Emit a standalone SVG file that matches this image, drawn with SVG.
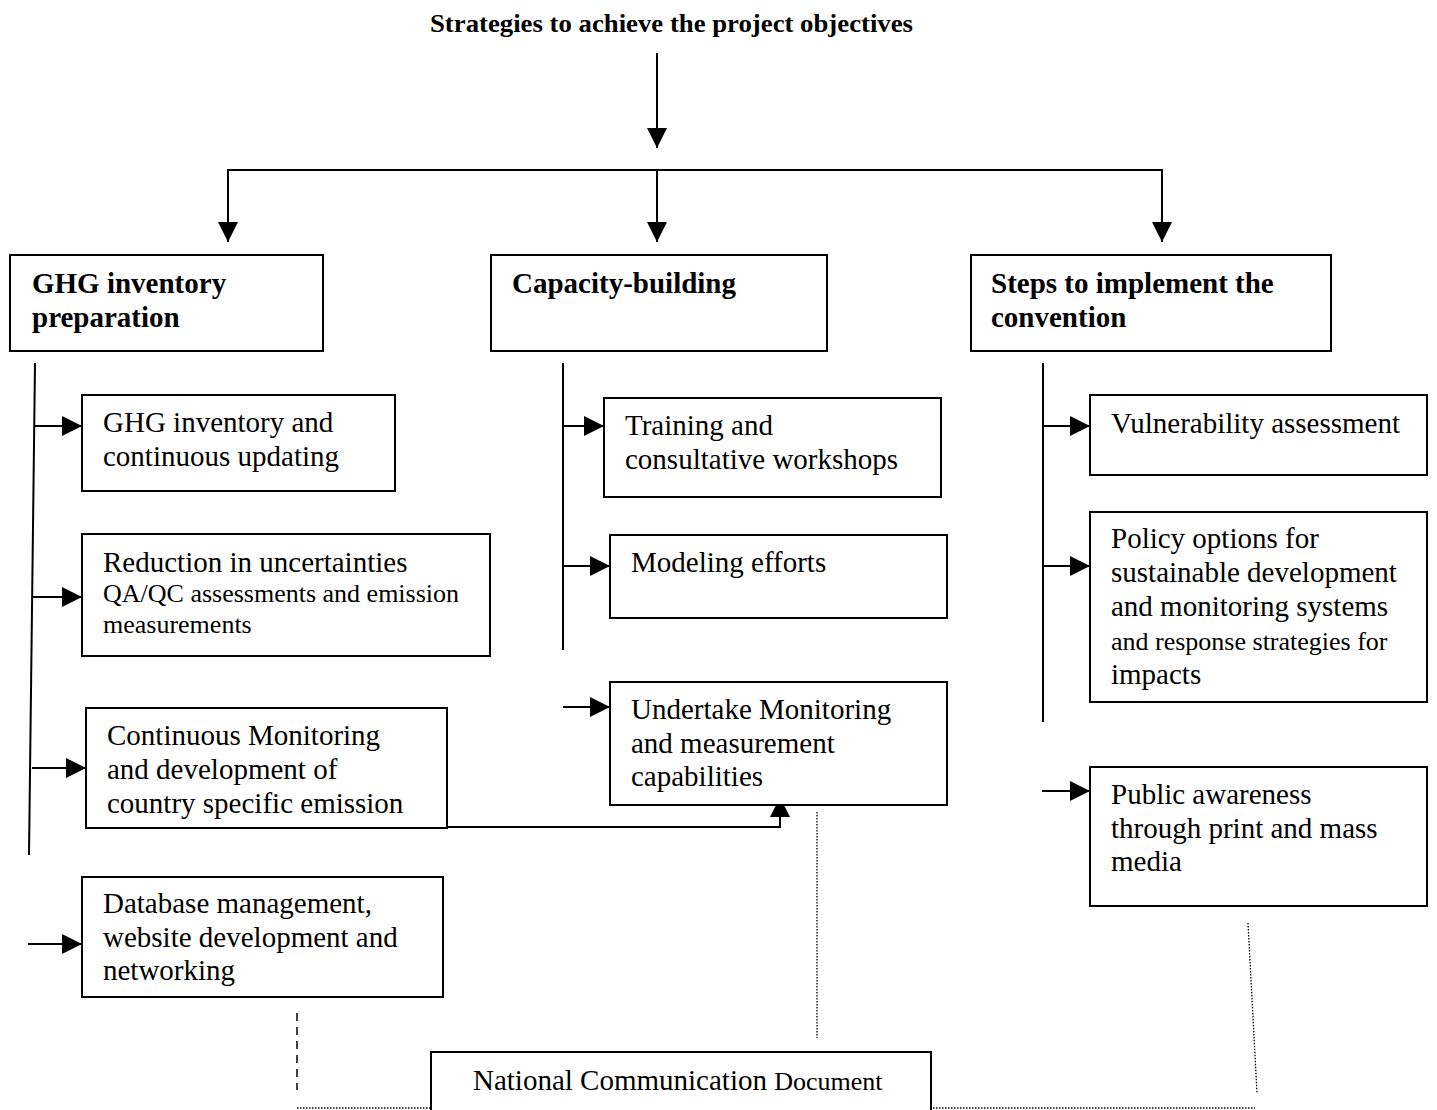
<svg xmlns="http://www.w3.org/2000/svg" width="1437" height="1110" viewBox="0 0 1437 1110">
<style>
  .box { fill: #fff; stroke: #000; stroke-width: 2; }
  .t { font-family: "Liberation Serif", "Times New Roman", serif; font-size: 29px; fill: #000; }
  .s { font-size: 26px; }
  .h { font-family: "Liberation Serif", "Times New Roman", serif; font-size: 29px; font-weight: bold; fill: #000; }
  .ln { stroke: #000; stroke-width: 2; fill: none; }
  .arr { stroke: #000; stroke-width: 2; fill: none; marker-end: url(#ah); }
  .dot { stroke: #000; stroke-width: 1.3; fill: none; stroke-dasharray: 1.5 1.5; }
  .dash { stroke: #000; stroke-width: 1.5; fill: none; stroke-dasharray: 8 6; }
</style>
<defs>
  <marker id="ah" markerUnits="userSpaceOnUse" markerWidth="20" markerHeight="20" refX="20" refY="10" orient="auto" viewBox="0 0 20 20">
    <path d="M0,0 L20,10 L0,20 z" fill="#000"/>
  </marker>
</defs>
<rect width="1437" height="1110" fill="#fff"/>

<g id="title">
  <text class="h" x="430" y="32" font-size="26" style="font-size:26px" textLength="483" lengthAdjust="spacingAndGlyphs">Strategies to achieve the project objectives</text>
</g>

<g id="connectors">
  <line class="arr" x1="657" y1="53" x2="657" y2="148"/>
  <polyline class="ln" points="228,240 228,170 1162,170 1162,240"/>
  <line class="arr" x1="228" y1="170" x2="228" y2="242"/>
  <line class="arr" x1="657" y1="170" x2="657" y2="242"/>
  <line class="arr" x1="1162" y1="170" x2="1162" y2="242"/>

  <line class="ln" x1="35" y1="363" x2="29" y2="855"/>
  <line class="arr" x1="34" y1="426" x2="82" y2="426"/>
  <line class="arr" x1="33" y1="597" x2="82" y2="597"/>
  <line class="arr" x1="32" y1="768" x2="86" y2="768"/>
  <line class="arr" x1="28" y1="944" x2="82" y2="944"/>

  <line class="ln" x1="563" y1="363" x2="563" y2="650"/>
  <line class="arr" x1="563" y1="426" x2="604" y2="426"/>
  <line class="arr" x1="563" y1="566" x2="610" y2="566"/>
  <line class="arr" x1="563" y1="707" x2="610" y2="707"/>

  <polyline class="ln" points="447,827 780,827"/>
  <line class="arr" x1="780" y1="828" x2="780" y2="797"/>

  <line class="ln" x1="1043" y1="363" x2="1043" y2="722"/>
  <line class="arr" x1="1043" y1="426" x2="1090" y2="426"/>
  <line class="arr" x1="1043" y1="566" x2="1090" y2="566"/>
  <line class="arr" x1="1042" y1="791" x2="1090" y2="791"/>

  <line class="dot" x1="817" y1="812" x2="817" y2="1038"/>
  <line class="dot" x1="1248" y1="923" x2="1257" y2="1093"/>
  <line class="dash" x1="297" y1="1013" x2="297" y2="1090"/>
  <line class="dot" x1="297" y1="1108" x2="1255" y2="1108"/>
</g>

<g id="ghg-prep">
  <rect class="box" x="10" y="255" width="313" height="96"/>
  <text class="h" x="32" y="293">GHG inventory</text>
  <text class="h" x="32" y="327">preparation</text>
</g>
<g id="capacity">
  <rect class="box" x="491" y="255" width="336" height="96"/>
  <text class="h" x="512" y="293">Capacity-building</text>
</g>
<g id="steps">
  <rect class="box" x="971" y="255" width="360" height="96"/>
  <text class="h" x="991" y="293">Steps to implement the</text>
  <text class="h" x="991" y="327">convention</text>
</g>

<g id="ghg-inventory">
  <rect class="box" x="82" y="395" width="313" height="96"/>
  <text class="t" x="103" y="432">GHG inventory and</text>
  <text class="t" x="103" y="466">continuous updating</text>
</g>
<g id="reduction">
  <rect class="box" x="82" y="534" width="408" height="122"/>
  <text class="t" x="103" y="572">Reduction in uncertainties</text>
  <text class="t s" x="103" y="602">QA/QC assessments and emission</text>
  <text class="t s" x="103" y="633">measurements</text>
</g>
<g id="continuous-monitoring">
  <rect class="box" x="86" y="708" width="361" height="120"/>
  <text class="t" x="107" y="745">Continuous Monitoring</text>
  <text class="t" x="107" y="779">and development of</text>
  <text class="t" x="107" y="813">country specific emission</text>
</g>
<g id="database">
  <rect class="box" x="82" y="877" width="361" height="120"/>
  <text class="t" x="103" y="913">Database management,</text>
  <text class="t" x="103" y="947">website development and</text>
  <text class="t" x="103" y="980">networking</text>
</g>

<g id="training">
  <rect class="box" x="604" y="398" width="337" height="99"/>
  <text class="t" x="625" y="435">Training and</text>
  <text class="t" x="625" y="469">consultative workshops</text>
</g>
<g id="modeling">
  <rect class="box" x="610" y="535" width="337" height="83"/>
  <text class="t" x="631" y="572">Modeling efforts</text>
</g>
<g id="undertake">
  <rect class="box" x="610" y="682" width="337" height="123"/>
  <text class="t" x="631" y="719">Undertake Monitoring</text>
  <text class="t" x="631" y="753">and measurement</text>
  <text class="t" x="631" y="786">capabilities</text>
</g>

<g id="vulnerability">
  <rect class="box" x="1090" y="395" width="337" height="80"/>
  <text class="t" x="1111" y="433">Vulnerability assessment</text>
</g>
<g id="policy">
  <rect class="box" x="1090" y="512" width="337" height="190"/>
  <text class="t" x="1111" y="548">Policy options for</text>
  <text class="t" x="1111" y="582">sustainable development</text>
  <text class="t" x="1111" y="616">and monitoring systems</text>
  <text class="t s" x="1111" y="650">and response strategies for</text>
  <text class="t" x="1111" y="684">impacts</text>
</g>
<g id="public">
  <rect class="box" x="1090" y="767" width="337" height="139"/>
  <text class="t" x="1111" y="804">Public awareness</text>
  <text class="t" x="1111" y="838">through print and mass</text>
  <text class="t" x="1111" y="871">media</text>
</g>

<g id="national-communication">
  <rect class="box" x="431" y="1052" width="500" height="62"/>
  <text class="t" x="473" y="1090">National Communication <tspan class="s">Document</tspan></text>
</g>
</svg>
